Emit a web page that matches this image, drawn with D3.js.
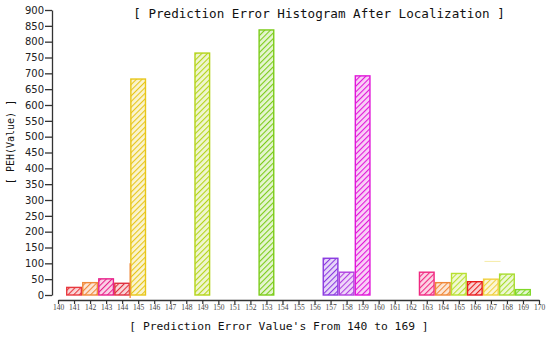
<!DOCTYPE html>
<html>
<head>
<meta charset="utf-8">
<script src="https://cdn.jsdelivr.net/npm/d3@7"></script>
<style>
  body { margin: 0; background: #fff; }
  svg { display: block; }
</style>
</head>
<body>
<div id="chart"></div>
<script>
// values
var errorValues = [141, 142, 143, 144, 145, 149, 153, 157, 158, 159, 163, 164, 165, 166, 167, 168, 169];
var pehCounts = [24, 39, 51, 37, 682, 764, 837, 116, 72, 692, 72, 39, 68, 42, 50, 66, 17];
var barColors = ["#e8393f", "#f0893a", "#e8228a", "#e0303f", "#e8c61a", "#b4d41a", "#7ccc1a",
    "#8a3ae0", "#b040e0", "#e018d8", "#f02880", "#f08838", "#b8e030", "#e81c1c",
    "#f0d040", "#a8dc30", "#80d828"];
var xTicks = d3.range(140, 171);
var yTicks = d3.range(0, 901, 50);

var svgWidth = 550;
var svgHeight = 338;

var svg = d3.select("#chart")
    .append("svg")
    .attr("width", svgWidth)
    .attr("height", svgHeight);

var xScale = d3.scaleLinear().domain([140, 170]).range([58, 539]);
var yScale = d3.scaleLinear().domain([0, 900]).range([295, 10]);

// hatch patterns, one per bar colour
var defs = svg.append("defs");
barColors.forEach(function(c, i) {
    var p = defs.append("pattern")
        .attr("id", "hatch" + i)
        .attr("patternUnits", "userSpaceOnUse")
        .attr("width", 4)
        .attr("height", 4)
        .attr("patternTransform", "rotate(45)");
    p.append("rect")
        .attr("width", 4).attr("height", 4)
        .attr("fill", c).attr("fill-opacity", 0.2);
    p.append("line")
        .attr("x1", 0).attr("y1", 0)
        .attr("x2", 0).attr("y2", 4)
        .attr("stroke", c)
        .attr("stroke-width", 2.2);
});

// y axis
var yAxis = d3.axisLeft(yScale)
    .tickValues(yTicks)
    .tickSize(7)
    .tickSizeOuter(0);

var yG = svg.append("g")
    .attr("transform", "translate(52,0)")
    .call(yAxis);
yG.select(".domain").attr("stroke", "#333").attr("stroke-width", 1.3);
yG.selectAll(".tick line").attr("stroke", "#333").attr("stroke-width", 1.3);
yG.selectAll(".tick text")
    .attr("x", -8)
    .style("font-family", "DejaVu Sans")
    .style("font-size", "10px")
    .attr("fill", "#222");

// x axis
var xAxis = d3.axisBottom(xScale)
    .tickValues(xTicks)
    .tickSize(4)
    .tickSizeOuter(0);

var xG = svg.append("g")
    .attr("transform", "translate(0,300)")
    .call(xAxis);
xG.select(".domain").attr("stroke", "#333").attr("stroke-width", 1.3);
xG.selectAll(".tick line").attr("stroke", "#333").attr("stroke-width", 1.2);
xG.selectAll(".tick text")
    .attr("y", 5)
    .style("font-family", "Liberation Serif")
    .style("font-size", "7.5px")
    .attr("fill", "#444");

// bars
var bars = svg.append("g").selectAll("rect")
    .data(errorValues)
    .enter()
    .append("rect")
    .attr("x", d => xScale(d - 0.5) + 0.7)
    .attr("y", (d, i) => yScale(pehCounts[i]))
    .attr("width", d => xScale(d + 0.5) - xScale(d - 0.5) - 1.4)
    .attr("height", (d, i) => yScale(0) - yScale(pehCounts[i]))
    .attr("fill", (d, i) => "url(#hatch" + i + ")")
    .attr("stroke", (d, i) => barColors[i])
    .attr("stroke-width", 1.4);

// stray marks in the original picture
svg.append("line")
    .attr("x1", xScale(144.5)).attr("x2", xScale(144.5))
    .attr("y1", yScale(100)).attr("y2", yScale(0) + 3)
    .attr("stroke", "#f0893a").attr("stroke-width", 1.3);
svg.append("line")
    .attr("x1", xScale(166.6)).attr("x2", xScale(167.6))
    .attr("y1", yScale(106)).attr("y2", yScale(106))
    .attr("stroke", "#f0e070").attr("stroke-width", 1).attr("opacity", 0.6);

// titles
svg.append("text")
    .attr("x", 319)
    .attr("y", 18)
    .attr("text-anchor", "middle")
    .style("font-family", "DejaVu Sans Mono")
    .style("font-size", "12.6px")
    .attr("fill", "#111")
    .text("[ Prediction Error Histogram After Localization ]");

svg.append("text")
    .attr("x", 279)
    .attr("y", 330)
    .attr("text-anchor", "middle")
    .style("font-family", "DejaVu Sans Mono")
    .style("font-size", "11.3px")
    .attr("fill", "#111")
    .text("[ Prediction Error Value's From 140 to 169 ]");

svg.append("text")
    .attr("transform", "translate(14,142) rotate(-90)")
    .attr("text-anchor", "middle")
    .style("font-family", "DejaVu Sans Mono")
    .style("font-size", "10px")
    .attr("fill", "#111")
    .text("[ PEH(Value) ]");
</script>
</body>
</html>
